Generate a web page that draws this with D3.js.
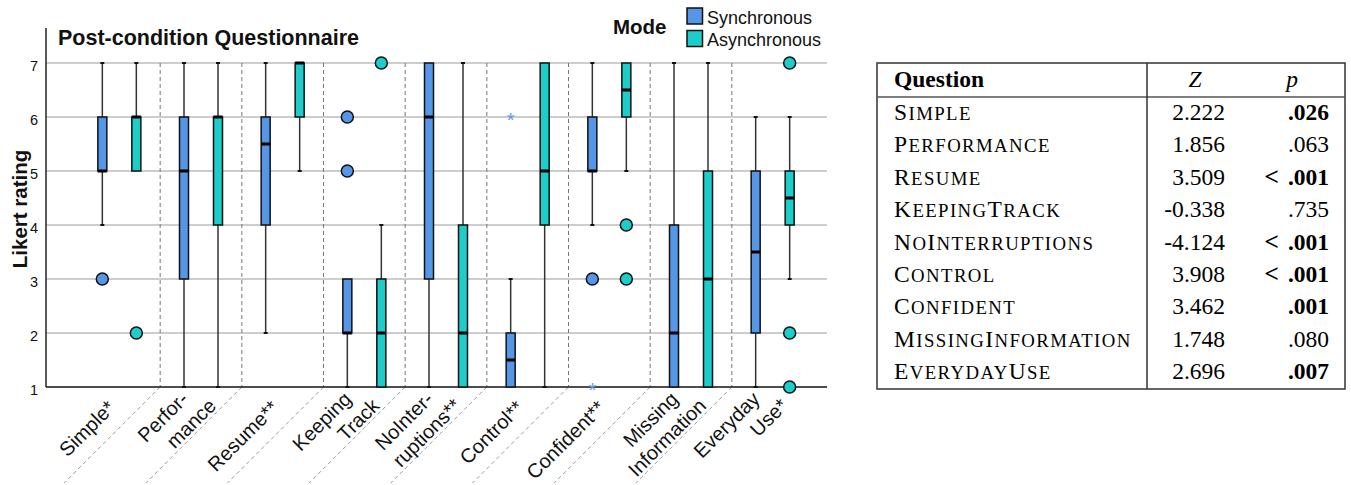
<!DOCTYPE html>
<html>
<head>
<meta charset="utf-8">
<script src="https://cdn.jsdelivr.net/npm/d3@7"></script>
<style>
  html, body { margin: 0; padding: 0; background: #fff; }
  svg { display: block; }
</style>
</head>
<body>
<svg id="chart" width="1351" height="485"></svg>
<script>
// ---------- data ----------
const categories = ["Simple","Performance","Resume","KeepingTrack","NoInterruptions","Control","Confident","MissingInformation","EverydayUse"];
const labelLines = [["Simple*"],["Perfor-","mance"],["Resume**"],["Keeping","Track"],["NoInter-","ruptions**"],["Control**"],["Confident**"],["Missing","Information"],["Everyday","Use*"]];
const modes = ["Synchronous","Asynchronous"];
const yTicks = [1,2,3,4,5,6,7];

// Synchronous box stats
const syncLow  = [4,1,2,1,1,1,4,1,1];
const syncQ1   = [5,3,4,2,3,1,5,1,2];
const syncMed  = [5,5,5.5,2,6,1.5,5,2,3.5];
const syncQ3   = [6,6,6,3,7,2,6,4,5];
const syncHigh = [7,7,7,3,7,3,7,7,6];
const syncOutliers = [[3],[],[],[6,5],[],[],[3],[],[]];
const syncExtremes = [[],[],[],[],[],[6],[1],[],[]];

// Asynchronous box stats
const asyncLow  = [5,1,5,1,1,1,5,1,3];
const asyncQ1   = [5,4,6,1,1,4,6,1,4];
const asyncMed  = [6,6,7,2,2,5,6.5,3,4.5];
const asyncQ3   = [6,6,7,3,4,7,7,5,5];
const asyncHigh = [7,7,7,4,7,7,7,7,6];
const asyncOutliers = [[2],[],[],[7],[],[],[4,3],[],[7,2,1]];
const asyncExtremes = [[],[],[],[],[],[],[],[],[]];

// Table
const tableQuestions = ["Simple","Performance","Resume","KeepingTrack","NoInterruptions","Control","Confident","MissingInformation","EverydayUse"];
const tableZ = ["2.222","1.856","3.509","-0.338","-4.124","3.908","3.462","1.748","2.696"];
const tableP = [".026",".063","< .001",".735","< .001","< .001",".001",".080",".007"];
const tablePBold = [true,false,true,false,true,true,true,false,true];

// ---------- build ----------
const colors = { Synchronous: "#5596E6", Asynchronous: "#1DCDC9" };
const series = [
  { mode: "Synchronous", low: syncLow, q1: syncQ1, med: syncMed, q3: syncQ3, high: syncHigh, out: syncOutliers, ext: syncExtremes },
  { mode: "Asynchronous", low: asyncLow, q1: asyncQ1, med: asyncMed, q3: asyncQ3, high: asyncHigh, out: asyncOutliers, ext: asyncExtremes }
];
const boxes = [];
series.forEach(s => categories.forEach((c, i) => boxes.push({
  cat: c, mode: s.mode, low: s.low[i], q1: s.q1[i], med: s.med[i], q3: s.q3[i], high: s.high[i], out: s.out[i], ext: s.ext[i]
})));

const svg = d3.select("#chart");
const sans = "'Liberation Sans', Arial, Helvetica, sans-serif";
const serif = "'Liberation Serif', 'Times New Roman', Times, serif";

const axisLeft = 46, axisRight = 827;
const x = d3.scaleBand().domain(categories).range([78.5, 813.5]).paddingInner(0).paddingOuter(0);
const xm = d3.scalePoint().domain(modes).range([-17, 17]);
const y = d3.scaleLinear().domain([1, 7]).range([387, 63]);
const cx = (c) => x(c) + x.bandwidth() / 2;

// gridlines
svg.append("g").selectAll("line").data(yTicks).join("line")
  .attr("x1", axisLeft).attr("x2", axisRight)
  .attr("y1", d => y(d)).attr("y2", d => y(d))
  .attr("stroke", "#bdbdbd").attr("stroke-width", 1.3);

// y tick labels (via axis)
const yAxis = d3.axisLeft(y).tickValues(yTicks).tickSize(0).tickPadding(8).tickFormat(d3.format("d"));
const gy = svg.append("g").attr("transform", `translate(${axisLeft},0)`).call(yAxis);
gy.select(".domain").remove();
gy.selectAll("text").attr("font-family", sans).attr("font-size", 14.5).attr("fill", "#111").attr("dy", "0.55em");

// vertical dashed separators + diagonal continuations
const seps = categories.slice(1).map(c => x(c));
svg.append("g").selectAll("line").data(seps).join("line")
  .attr("x1", d => d).attr("x2", d => d)
  .attr("y1", y(7)).attr("y2", y(1))
  .attr("stroke", "#777").attr("stroke-width", 1).attr("stroke-dasharray", "4,3");
svg.append("g").selectAll("line").data(seps).join("line")
  .attr("x1", d => d).attr("x2", d => d - 96)
  .attr("y1", y(1)).attr("y2", y(1) + 96)
  .attr("stroke", "#9a9a9a").attr("stroke-width", 1).attr("stroke-dasharray", "4,3");

// axis lines
svg.append("line").attr("x1", axisLeft).attr("x2", axisLeft).attr("y1", y(7.65)).attr("y2", y(1))
  .attr("stroke", "#222").attr("stroke-width", 1.5);
svg.append("line").attr("x1", axisLeft).attr("x2", axisRight).attr("y1", y(1)).attr("y2", y(1))
  .attr("stroke", "#222").attr("stroke-width", 1.5);

// boxes
const bw = 9;
const gb = svg.append("g").selectAll("g").data(boxes).join("g")
  .attr("transform", d => `translate(${cx(d.cat) + xm(d.mode)},0)`);
// whiskers
gb.append("line").attr("x1", 0).attr("x2", 0).attr("y1", d => y(d.low)).attr("y2", d => y(d.q1))
  .attr("stroke", "#333").attr("stroke-width", 1.5);
gb.append("line").attr("x1", 0).attr("x2", 0).attr("y1", d => y(d.q3)).attr("y2", d => y(d.high))
  .attr("stroke", "#333").attr("stroke-width", 1.5);
gb.filter(d => d.high > d.q3).append("line").attr("x1", -2).attr("x2", 2)
  .attr("y1", d => y(d.high)).attr("y2", d => y(d.high)).attr("stroke", "#111").attr("stroke-width", 2);
gb.filter(d => d.low < d.q1).append("line").attr("x1", -2).attr("x2", 2)
  .attr("y1", d => y(d.low)).attr("y2", d => y(d.low)).attr("stroke", "#111").attr("stroke-width", 2);
// box
gb.append("rect").attr("x", -bw / 2).attr("width", bw)
  .attr("y", d => y(d.q3)).attr("height", d => y(d.q1) - y(d.q3))
  .attr("fill", d => colors[d.mode]).attr("stroke", "#111").attr("stroke-width", 1.5);
// median
gb.append("line").attr("x1", -bw / 2).attr("x2", bw / 2)
  .attr("y1", d => y(d.med)).attr("y2", d => y(d.med))
  .attr("stroke", "#000").attr("stroke-width", 3);
// outliers
gb.selectAll("circle").data(d => d.out.map(v => ({ v, mode: d.mode }))).join("circle")
  .attr("cx", 0).attr("cy", d => y(d.v)).attr("r", 6)
  .attr("fill", d => colors[d.mode]).attr("stroke", "#111").attr("stroke-width", 1.5);
// extremes
gb.selectAll("text.ext").data(d => d.ext.map(v => ({ v, mode: d.mode }))).join("text")
  .attr("class", "ext").attr("x", 0).attr("y", d => y(d.v) + 10)
  .attr("text-anchor", "middle").attr("font-family", sans).attr("font-size", 20)
  .attr("fill", d => d.mode === "Synchronous" ? "#5B9BF0" : "#1DCDC9").text("*");

// x labels
const lg = svg.append("g").selectAll("g").data(categories).join("g")
  .attr("transform", (c) => `translate(${cx(c) - 3},${y(1) + 22}) rotate(-45)`);
lg.each(function (c, i) {
  const lines = labelLines[i];
  const n = lines.length;
  const t = d3.select(this).append("text")
    .attr("font-family", sans).attr("font-size", 20).attr("fill", "#111").attr("text-anchor", "end");
  lines.forEach((ln, j) => {
    t.append("tspan").attr("x", n > 1 ? j * 15 : 0).attr("y", (j - (n - 1) / 2) * 24.5).text(ln);
  });
});

// y title
svg.append("text").attr("transform", "translate(27,209) rotate(-90)")
  .attr("text-anchor", "middle").attr("font-family", sans).attr("font-weight", "bold")
  .attr("font-size", 20.5).attr("fill", "#111").text("Likert rating");

// title
svg.append("text").attr("x", 58).attr("y", 45).attr("font-family", sans).attr("font-weight", "bold")
  .attr("font-size", 21.5).attr("fill", "#111").text("Post-condition Questionnaire");

// legend
svg.append("text").attr("x", 613).attr("y", 34).attr("font-family", sans).attr("font-weight", "bold")
  .attr("font-size", 20.5).attr("fill", "#111").text("Mode");
const leg = svg.append("g").selectAll("g").data(modes).join("g")
  .attr("transform", (d, i) => `translate(687,${8 + i * 22.5})`);
leg.append("rect").attr("width", 15.5).attr("height", 16)
  .attr("fill", d => colors[d]).attr("stroke", "#111").attr("stroke-width", 1.5);
leg.append("text").attr("x", 20).attr("y", 15.5).attr("font-family", sans).attr("font-size", 18)
  .attr("fill", "#111").text(d => d);

// ---------- table ----------
const tb = svg.append("g");
const tLeft = 877, tRight = 1345, tTop = 63, tBottom = 389, headLine = 97, colLine = 1147;
tb.append("rect").attr("x", tLeft).attr("y", tTop).attr("width", tRight - tLeft).attr("height", tBottom - tTop)
  .attr("fill", "none").attr("stroke", "#333").attr("stroke-width", 1.5);
tb.append("line").attr("x1", tLeft).attr("x2", tRight).attr("y1", headLine).attr("y2", headLine)
  .attr("stroke", "#555").attr("stroke-width", 1.5);
tb.append("line").attr("x1", colLine).attr("x2", colLine).attr("y1", tTop).attr("y2", tBottom)
  .attr("stroke", "#333").attr("stroke-width", 1.5);

const fs = 23.5;
tb.append("text").attr("x", 894).attr("y", 87).attr("font-family", serif).attr("font-weight", "bold")
  .attr("font-size", fs).attr("fill", "#000").text("Question");
tb.append("text").attr("x", 1195).attr("y", 87).attr("text-anchor", "middle").attr("font-family", serif)
  .attr("font-style", "italic").attr("font-size", fs).attr("fill", "#000").text("Z");
tb.append("text").attr("x", 1292).attr("y", 87).attr("text-anchor", "middle").attr("font-family", serif)
  .attr("font-style", "italic").attr("font-size", fs).attr("fill", "#000").text("p");

const rowY = d3.scalePoint().domain(tableQuestions).range([120, 379]);
tableQuestions.forEach((q, i) => {
  const t = tb.append("text").attr("x", 894).attr("y", rowY(q)).attr("font-family", serif)
    .attr("font-size", fs).attr("fill", "#000").attr("letter-spacing", 1.4);
  // small caps: uppercase letters full size, lowercase as reduced capitals
  const parts = q.match(/[A-Z][a-z]*/g);
  parts.forEach(p => {
    t.append("tspan").text(p[0]);
    if (p.length > 1) t.append("tspan").attr("font-size", fs * 0.8).text(p.slice(1).toUpperCase());
  });
  tb.append("text").attr("x", 1225).attr("y", rowY(q)).attr("text-anchor", "end").attr("font-family", serif)
    .attr("font-size", fs).attr("fill", "#000").text(tableZ[i]);
  const pt = tb.append("text").attr("x", 1329).attr("y", rowY(q)).attr("text-anchor", "end").attr("font-family", serif)
    .attr("font-weight", tablePBold[i] ? "bold" : "normal")
    .attr("font-size", fs).attr("fill", "#000");
  const v = tableP[i];
  if (v.startsWith("<")) {
    pt.append("tspan").attr("font-size", fs * 1.1).text("<");
    pt.append("tspan").attr("dx", 9).text(v.slice(1).trim());
  } else {
    pt.text(v);
  }
});
</script>
</body>
</html>
